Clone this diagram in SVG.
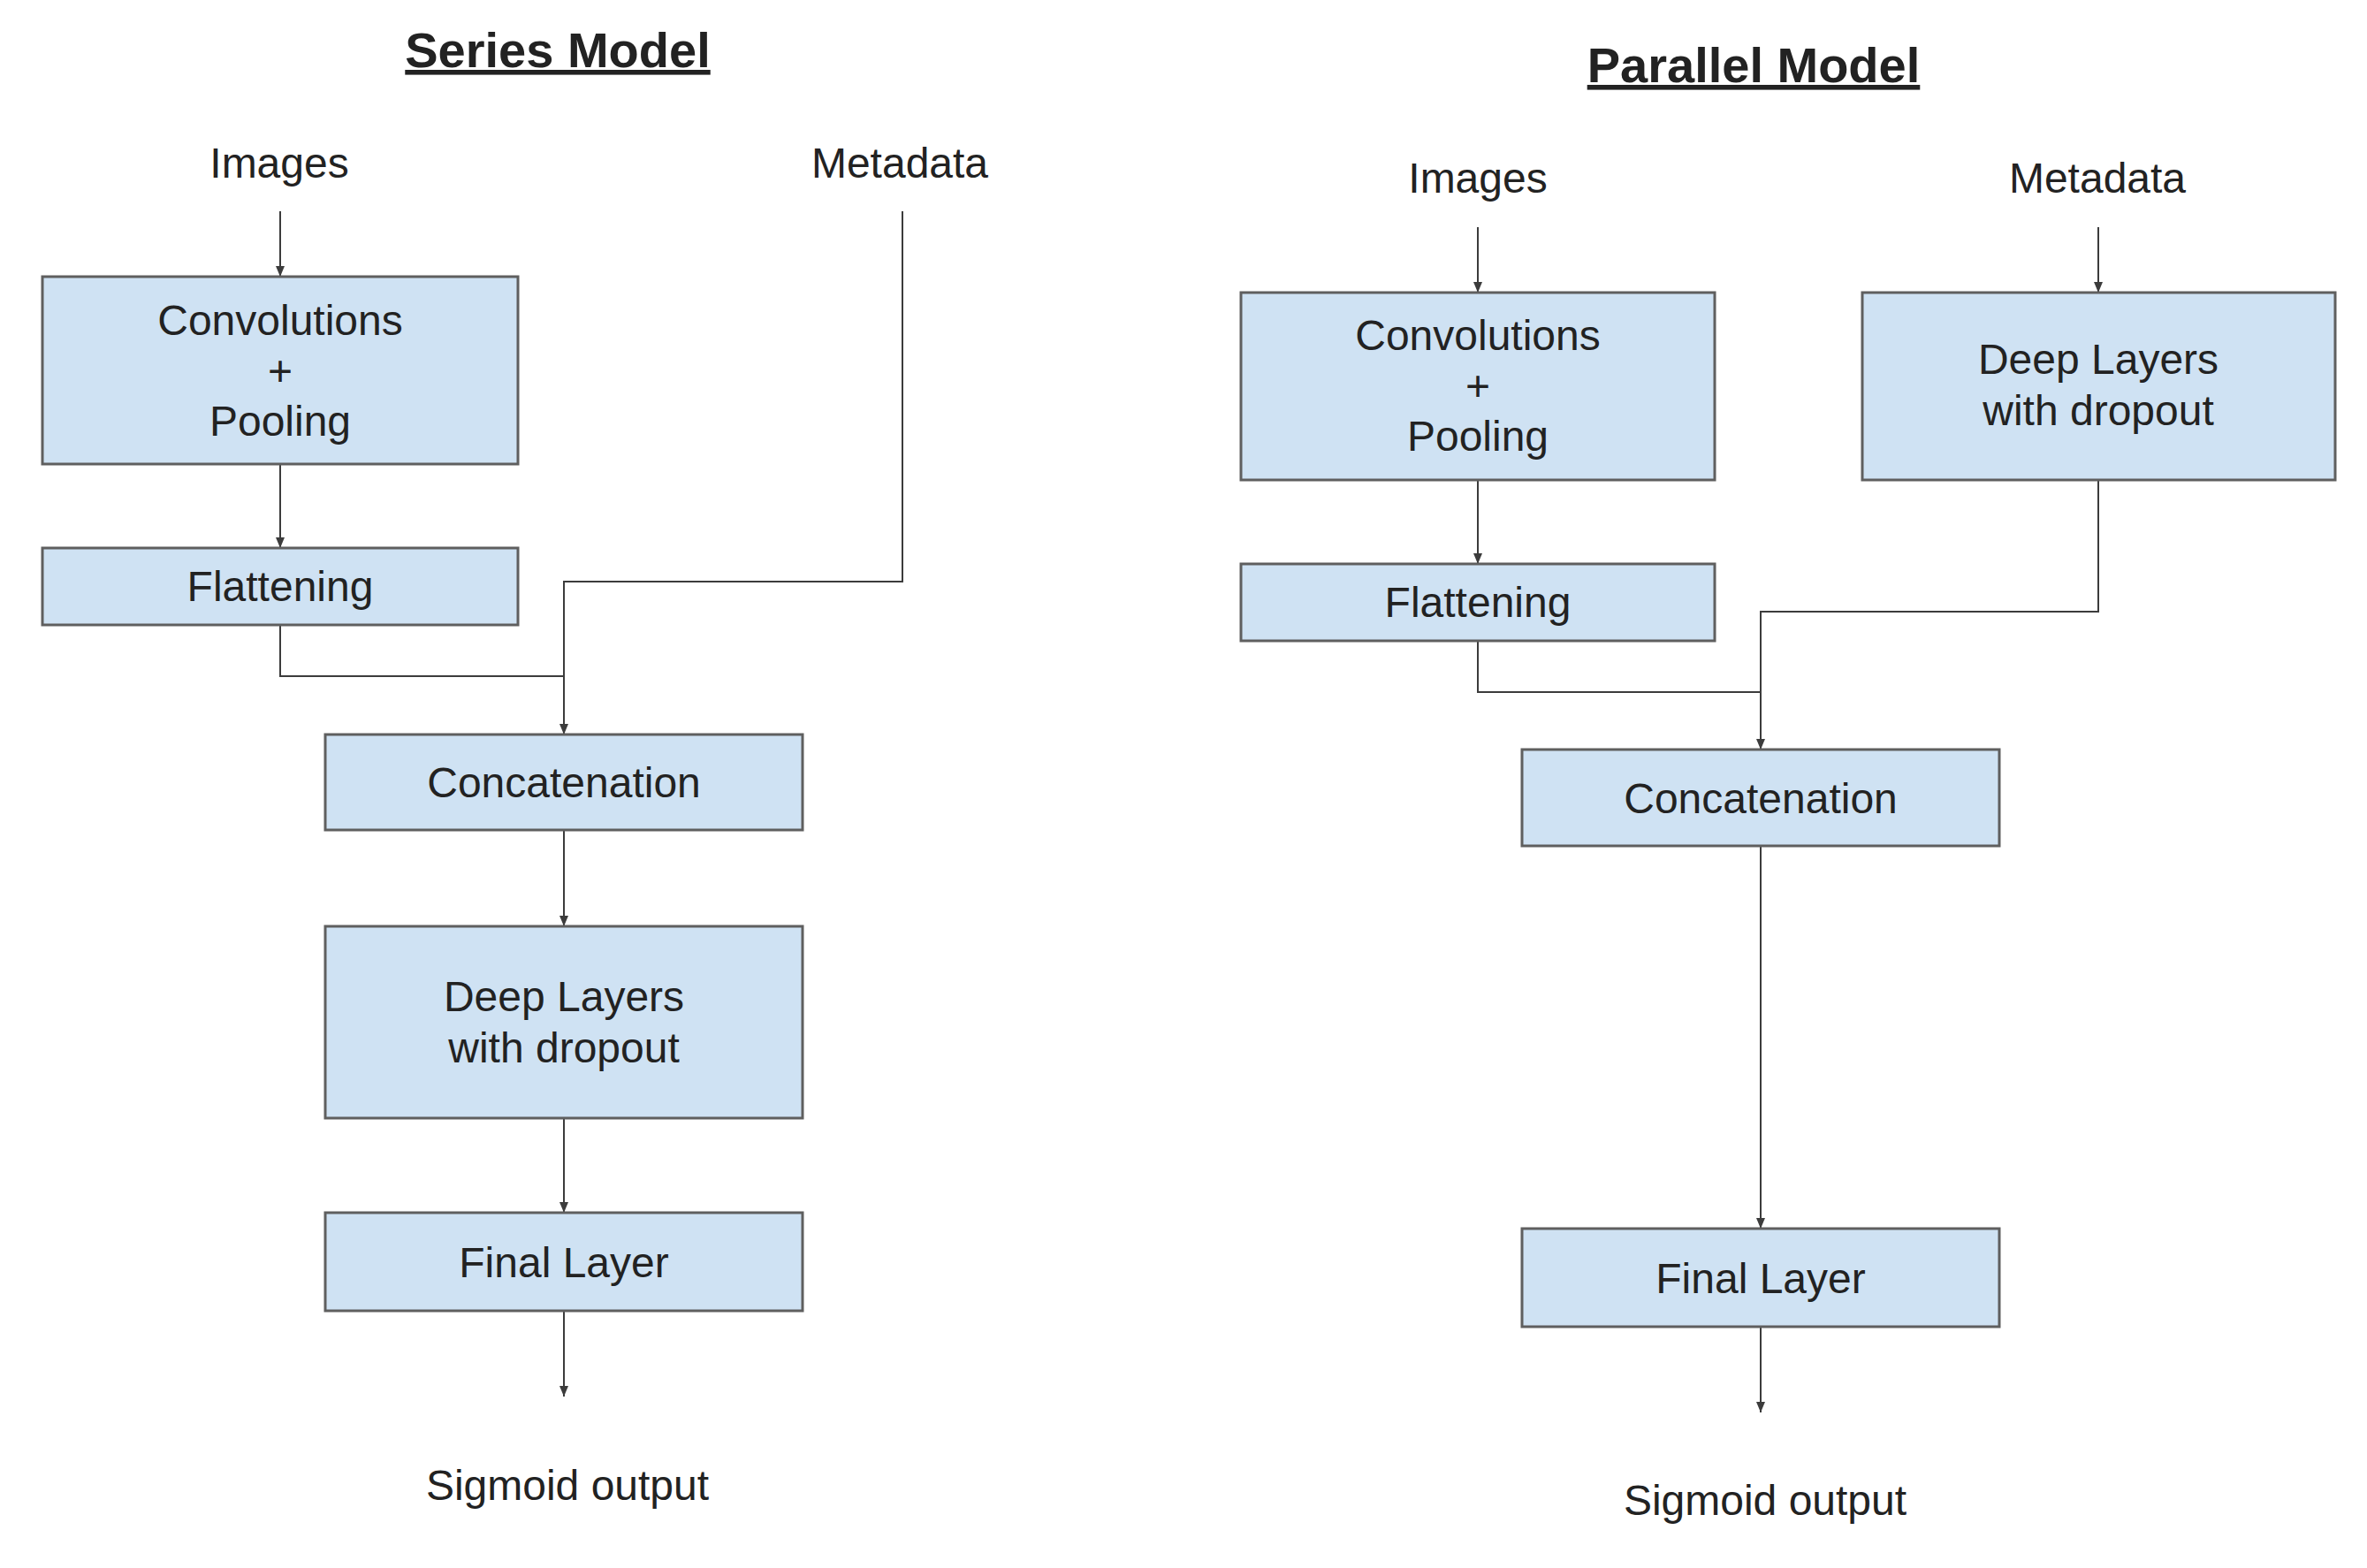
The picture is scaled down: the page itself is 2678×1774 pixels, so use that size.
<svg xmlns="http://www.w3.org/2000/svg" width="2678" height="1774" viewBox="0 0 2678 1774">
<style>
  text { font-family: "Liberation Sans", Arial, sans-serif; fill: #222; }
  .t { font-size: 48px; text-anchor: middle; }
  .title { font-size: 56px; font-weight: bold; text-anchor: middle; text-decoration: underline; }
  .box { fill: #cfe2f3; stroke: #5f5f5f; stroke-width: 3; }
  .c { fill: none; stroke: #3c3c3c; stroke-width: 2; }
</style>
<defs>
  <marker id="arr" markerUnits="userSpaceOnUse" markerWidth="12" markerHeight="12" viewBox="0 0 12 12" refX="12" refY="6" orient="auto">
    <path d="M0,1 L12,6 L0,11 z" fill="#3c3c3c"/>
  </marker>
</defs>
<rect width="2678" height="1774" fill="#ffffff"/>

<g id="series-title"><text class="title" x="631" y="76">Series Model</text></g>
<g id="parallel-title"><text class="title" x="1984" y="93">Parallel Model</text></g>

<g id="connectors">
  <!-- Series -->
  <path class="c" d="M317,239 V313" marker-end="url(#arr)"/>
  <path class="c" d="M317,525 V620" marker-end="url(#arr)"/>
  <path class="c" d="M317,707 V765 H638"/>
  <path class="c" d="M1021,239 V658 H638 V831" marker-end="url(#arr)"/>
  <path class="c" d="M638,939 V1048" marker-end="url(#arr)"/>
  <path class="c" d="M638,1265 V1372" marker-end="url(#arr)"/>
  <path class="c" d="M638,1483 V1580" marker-end="url(#arr)"/>
  <!-- Parallel -->
  <path class="c" d="M1672,257 V331" marker-end="url(#arr)"/>
  <path class="c" d="M2374,257 V331" marker-end="url(#arr)"/>
  <path class="c" d="M1672,543 V638" marker-end="url(#arr)"/>
  <path class="c" d="M1672,725 V783 H1992"/>
  <path class="c" d="M2374,543 V692 H1992 V848" marker-end="url(#arr)"/>
  <path class="c" d="M1992,957 V1390" marker-end="url(#arr)"/>
  <path class="c" d="M1992,1501 V1598" marker-end="url(#arr)"/>
</g>

<!-- Series model nodes -->
<g id="s-images"><text class="t" x="316" y="201">Images</text></g>
<g id="s-metadata"><text class="t" x="1018" y="201">Metadata</text></g>
<g id="s-conv">
  <rect class="box" x="48" y="313" width="538" height="212"/>
  <text class="t" x="317" y="379">Convolutions</text>
  <text class="t" x="317" y="436">+</text>
  <text class="t" x="317" y="493">Pooling</text>
</g>
<g id="s-flatten">
  <rect class="box" x="48" y="620" width="538" height="87"/>
  <text class="t" x="317" y="680">Flattening</text>
</g>
<g id="s-concat">
  <rect class="box" x="368" y="831" width="540" height="108"/>
  <text class="t" x="638" y="902">Concatenation</text>
</g>
<g id="s-deep">
  <rect class="box" x="368" y="1048" width="540" height="217"/>
  <text class="t" x="638" y="1144">Deep Layers</text>
  <text class="t" x="638" y="1202">with dropout</text>
</g>
<g id="s-final">
  <rect class="box" x="368" y="1372" width="540" height="111"/>
  <text class="t" x="638" y="1445">Final Layer</text>
</g>
<g id="s-output"><text class="t" x="642" y="1697">Sigmoid output</text></g>

<!-- Parallel model nodes -->
<g id="p-images"><text class="t" x="1672" y="218">Images</text></g>
<g id="p-metadata"><text class="t" x="2373" y="218">Metadata</text></g>
<g id="p-conv">
  <rect class="box" x="1404" y="331" width="536" height="212"/>
  <text class="t" x="1672" y="396">Convolutions</text>
  <text class="t" x="1672" y="453">+</text>
  <text class="t" x="1672" y="510">Pooling</text>
</g>
<g id="p-deep">
  <rect class="box" x="2107" y="331" width="535" height="212"/>
  <text class="t" x="2374" y="423">Deep Layers</text>
  <text class="t" x="2374" y="481">with dropout</text>
</g>
<g id="p-flatten">
  <rect class="box" x="1404" y="638" width="536" height="87"/>
  <text class="t" x="1672" y="698">Flattening</text>
</g>
<g id="p-concat">
  <rect class="box" x="1722" y="848" width="540" height="109"/>
  <text class="t" x="1992" y="920">Concatenation</text>
</g>
<g id="p-final">
  <rect class="box" x="1722" y="1390" width="540" height="111"/>
  <text class="t" x="1992" y="1463">Final Layer</text>
</g>
<g id="p-output"><text class="t" x="1997" y="1714">Sigmoid output</text></g>
</svg>
